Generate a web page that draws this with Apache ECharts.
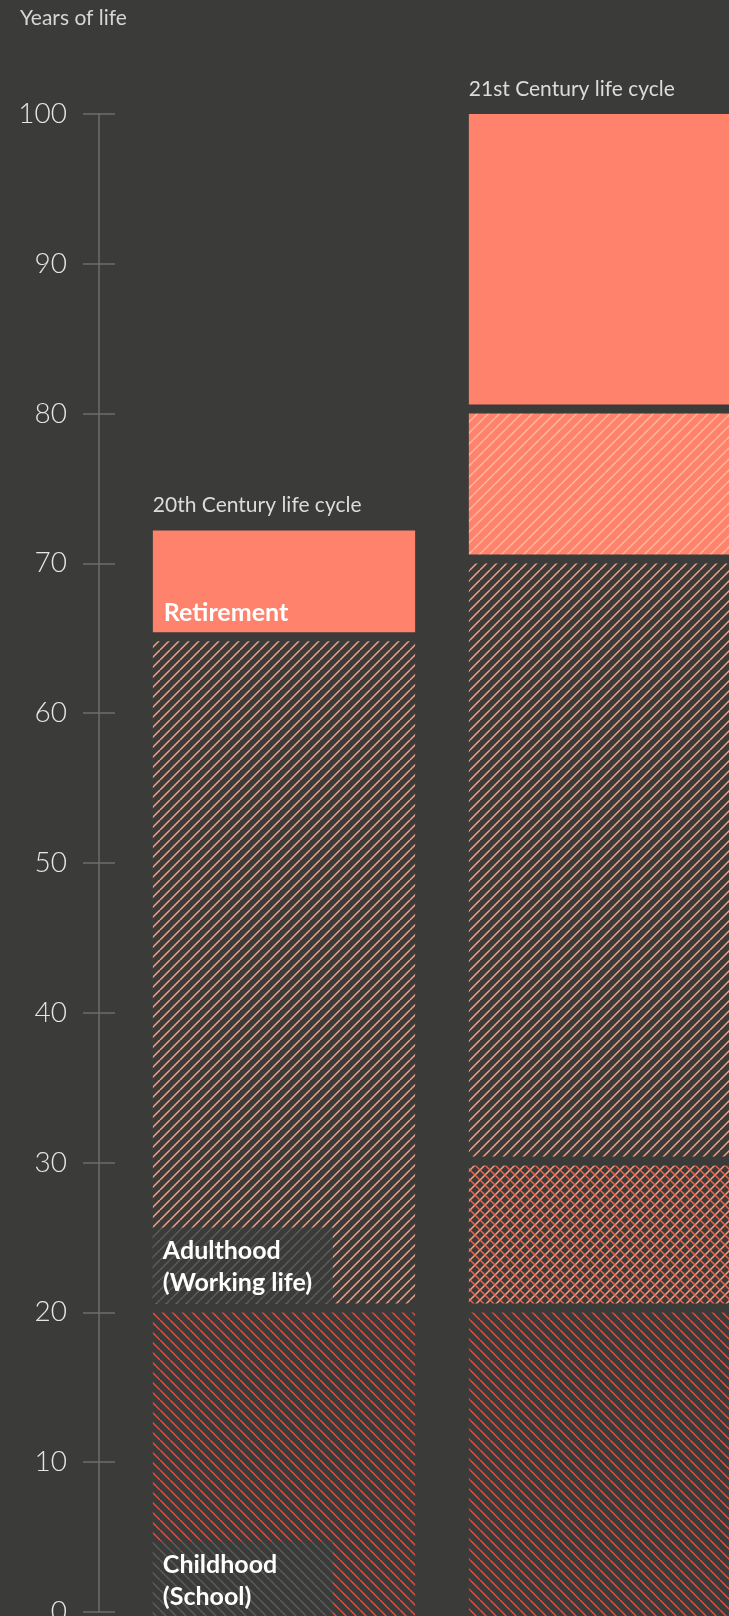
<!DOCTYPE html>
<html>
<head>
<meta charset="utf-8">
<title>Years of life</title>
<script src="https://cdn.jsdelivr.net/npm/echarts@6/dist/echarts.min.js"></script>
<style>
html, body { margin: 0; padding: 0; background: #3b3b39; }
#chart { width: 729px; height: 1616px; }
</style>
</head>
<body>
<div id="chart"></div>
<script>
/* data */
var centuries = ['20th Century life cycle', '21st Century life cycle'];
// stage boundaries in years, bottom to top
var bounds20 = [0, 20, 64.8, 72.2];
var bounds21 = [0, 20, 29.8, 70, 80, 100];
var fills20 = ['school', 'work', 'retire'];
var fills21 = ['school', 'cross', 'work', 'semi', 'retire'];
var labels20 = ['Childhood\n(School)', 'Adulthood\n(Working life)', 'Retirement'];
var labels21 = ['', '', '', '', ''];

var BG = '#3b3b39';
var SALMON = '#ff826d';
var GAP = 9;

// diagonal line tiles
function hatch(bg, size, lines) {
    var c = document.createElement('canvas');
    c.width = size;
    c.height = size;
    var ctx = c.getContext('2d');
    ctx.fillStyle = bg;
    ctx.fillRect(0, 0, size, size);
    lines.forEach(function (l) {
        ctx.strokeStyle = l.color;
        ctx.lineWidth = l.width || 1.5;
        ctx.beginPath();
        for (var k = -1; k <= 1; k++) {
            if (l.dir === '/') {
                ctx.moveTo(k * size, size);
                ctx.lineTo(k * size + size, 0);
            } else {
                ctx.moveTo(k * size, 0);
                ctx.lineTo(k * size + size, size);
            }
        }
        ctx.stroke();
    });
    return { image: c, repeat: 'repeat' };
}

var patterns = {
    school: hatch(BG, 10, [{ color: '#e84a3d', dir: '\\' }]),
    work: hatch(BG, 10, [{ color: '#f4a086', dir: '/' }]),
    cross: hatch(BG, 10, [{ color: '#f9a084', dir: '/' }, { color: '#f0604d', dir: '\\' }]),
    semi: hatch(SALMON, 11, [{ color: '#ffb899', dir: '/' }]),
    retire: SALMON
};
var labelPatterns = {
    school: hatch(BG, 10, [{ color: '#5c5c5a', dir: '\\' }]),
    work: hatch(BG, 10, [{ color: '#5c5c5a', dir: '/' }])
};

var segs = [];
function addBar(cat, bounds, fills, labels) {
    for (var j = 0; j < fills.length; j++) {
        segs.push({
            value: [cat, bounds[j], bounds[j + 1]],
            fill: fills[j],
            label: labels[j],
            isTop: j === fills.length - 1
        });
    }
}
addBar(0, bounds20, fills20, labels20);
addBar(1, bounds21, fills21, labels21);

function renderItem(params, api) {
    var info = segs[params.dataIndex];
    var cat = api.value(0), lo = api.value(1), hi = api.value(2);
    var pHi = api.coord([cat, hi]);
    var pLo = api.coord([cat, lo]);
    var w = api.size([1, 0])[0] * 0.83;
    var x = pHi[0] - w / 2;
    var top = pHi[1];
    // bottom block runs a little past the baseline, the others leave a gap
    var bottom = lo > 0 ? pLo[1] - GAP : pLo[1] + 5;
    var children = [{
        type: 'rect',
        shape: { x: x, y: top, width: w, height: bottom - top },
        style: { fill: patterns[info.fill] }
    }];
    if (info.label) {
        if (info.fill === 'retire') {
            children.push({
                type: 'text',
                style: {
                    text: info.label, x: x + 11, y: bottom - 7,
                    verticalAlign: 'bottom', fill: '#ffffff',
                    font: 'bold 25px Lato'
                }
            });
        } else {
            children.push({
                type: 'rect',
                shape: { x: x, y: bottom - 76, width: 180, height: 76 },
                style: { fill: labelPatterns[info.fill] }
            });
            children.push({
                type: 'text',
                style: {
                    text: info.label, x: x + 10, y: bottom - 4,
                    verticalAlign: 'bottom', fill: '#ffffff',
                    font: 'bold 25px Lato', lineHeight: 32
                }
            });
        }
    }
    if (info.isTop) {
        children.push({
            type: 'text',
            style: {
                text: centuries[cat], x: x, y: top - 25,
                verticalAlign: 'middle', fill: '#dcdcdc',
                font: '21px Lato'
            }
        });
    }
    return { type: 'group', children: children };
}

var chart = echarts.init(document.getElementById('chart'));
var option = {
    backgroundColor: BG,
    animation: false,
    title: {
        text: 'Years of life',
        left: 20,
        top: 8,
        padding: 0,
        textStyle: { color: '#d6d6d6', fontSize: 21, fontWeight: 'normal', fontFamily: 'Lato' }
    },
    grid: {
        left: 126,
        top: 114,
        width: 632,
        height: 1498,
        outerBoundsMode: 'none'
    },
    xAxis: {
        type: 'category',
        data: centuries,
        show: false
    },
    yAxis: [{
        type: 'value',
        min: 0,
        max: 100,
        interval: 10,
        offset: 27,
        splitLine: { show: false },
        axisLine: { show: true, lineStyle: { color: '#6e6e6c', width: 1.5 } },
        axisTick: { show: true, length: 16, lineStyle: { color: '#6e6e6c', width: 1.5 } },
        axisLabel: {
            margin: 32,
            color: '#e6e6e6',
            fontSize: 28,
            fontFamily: 'Lato',
            fontWeight: 300
        }
    }, {
        type: 'value',
        min: 0,
        max: 100,
        interval: 10,
        offset: 27,
        position: 'left',
        splitLine: { show: false },
        axisLine: { show: false },
        axisTick: { show: true, inside: true, length: 16, lineStyle: { color: '#6e6e6c', width: 1.5 } },
        axisLabel: { show: false }
    }],
    series: [{
        type: 'custom',
        renderItem: renderItem,
        data: segs.map(function (s) { return s.value; }),
        encode: { x: 0, y: [1, 2] }
    }]
};
chart.setOption(option);
</script>
</body>
</html>
